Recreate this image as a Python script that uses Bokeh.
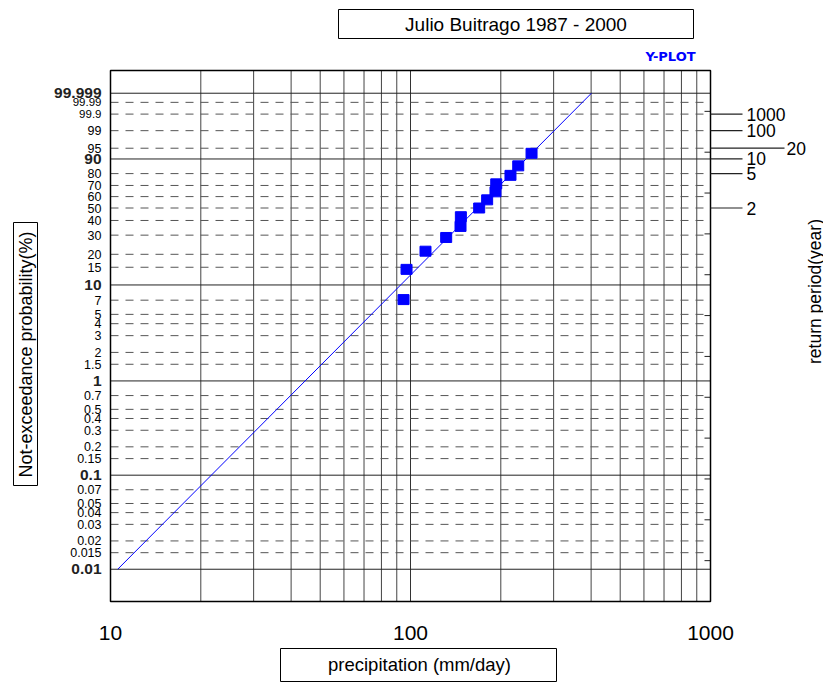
import math
from bokeh.plotting import figure
from bokeh.models import Range1d
from bokeh.core.properties import value
from bokeh.embed import file_html
from bokeh.resources import INLINE

# ---------------- data ----------------
title_text = "Julio Buitrago 1987 - 2000"
brand_text = "Y-PLOT"
x_label = "precipitation (mm/day)"
y_label = "Not-exceedance probability(%)"
y2_label = "return period(year)"

# observed annual maxima (mm/day), sorted, with plotting probabilities (%)
precip = [94.8, 97.0, 112.2, 131.5, 146.8, 147.2, 169.4, 180.1, 192.0, 193.1, 215.4, 228.6, 253.2]
prob = [7.1, 14.3, 21.4, 28.6, 35.7, 42.9, 50.0, 57.1, 64.3, 71.4, 78.6, 85.7, 92.9]

# fitted distribution line (end points on the paper)
fit_prob = [0.01, 99.999]
fit_precip = [10.57, 401.0]

# probability paper ticks (%)
prob_major = [0.01, 0.1, 1, 10, 90, 99.999]
prob_major_lbl = ["0.01", "0.1", "1", "10", "90", "99.999"]
prob_minor = [0.015, 0.02, 0.03, 0.04, 0.05, 0.07, 0.15, 0.2, 0.3, 0.4, 0.5, 0.7,
              1.5, 2, 3, 4, 5, 7, 15, 20, 30, 40, 50, 60, 70, 80, 95, 99]
prob_minor_lbl = ["0.015", "0.02", "0.03", "0.04", "0.05", "0.07", "0.15", "0.2", "0.3",
                  "0.4", "0.5", "0.7", "1.5", "2", "3", "4", "5", "7", "15", "20", "30",
                  "40", "50", "60", "70", "80", "95", "99"]
prob_small = [99.9, 99.99]
prob_small_lbl = ["99.9", "99.99"]

x_major = [10, 100, 1000]
x_major_lbl = ["10", "100", "1000"]
x_minor = [20, 30, 40, 50, 60, 70, 80, 90, 200, 300, 400, 500, 600, 700, 800, 900]

return_periods = [2, 5, 10, 100, 1000]
return_lbl = ["2", "5", "10", "100", "1000"]
return_long = [20]
return_long_lbl = ["20"]

variate_ticks = [-9, -8, -7, -6, -5, -4, -3, -2, -1, 0, 1, 2]

# ---------------- paper geometry ----------------
FIG_W, FIG_H, MARGIN = 823, 682, 0
PL, PR, PT, PB = 110, 710, 70, 601          # plot frame on page (px)
X0, X1 = 10.0, 1000.0                       # precipitation range of paper
Y0, Y1 = -10.0, 3.0                         # reduced variate range of paper


def wv(p):
    """Weibull reduced variate of a non-exceedance probability in %."""
    return math.log(-math.log(1.0 - p / 100.0))


def tp(T):
    return 100.0 * (1.0 - 1.0 / T)


def xd(px):
    lo, hi = math.log10(X0), math.log10(X1)
    return 10 ** (lo + (px - PL) / (PR - PL) * (hi - lo))


def yd(py):
    return Y1 - (py - PT) / (PB - PT) * (Y1 - Y0)


p = figure(width=FIG_W, height=FIG_H, x_axis_type="log",
           x_range=Range1d(xd(MARGIN), xd(MARGIN + FIG_W)),
           y_range=Range1d(yd(MARGIN + FIG_H), yd(MARGIN)),
           x_axis_location=None, y_axis_location=None,
           toolbar_location=None, output_backend="svg", min_border=0)
p.outline_line_color = None
p.grid.visible = False
p.background_fill_color = "white"
p.border_fill_color = "white"

FONT = value("Liberation Sans")

# vertical grid
p.segment(x0=x_minor, y0=[Y0] * len(x_minor), x1=x_minor, y1=[Y1] * len(x_minor),
          line_color="#444444", line_width=1)
p.segment(x0=[x_major[1]], y0=[Y0], x1=[x_major[1]], y1=[Y1], line_color="#333333", line_width=1)

# horizontal dashed grid
dash_p = prob_minor + prob_small
dy = [wv(v) for v in dash_p]
p.segment(x0=[X0] * len(dy), y0=dy, x1=[X1] * len(dy), y1=dy,
          line_color="#555555", line_width=1, line_dash="8 7")
# horizontal solid major lines
my = [wv(v) for v in prob_major]
p.segment(x0=[X0] * len(my), y0=my, x1=[X1] * len(my), y1=my,
          line_color="#222222", line_width=1)

# small ticks of the reduced variate on the right edge
p.segment(x0=[xd(PR - 6)] * len(variate_ticks), y0=variate_ticks,
          x1=[X1] * len(variate_ticks), y1=variate_ticks, line_color="#222222", line_width=1)

# frame
p.quad(left=[X0], right=[X1], bottom=[Y0], top=[Y1], fill_color=None,
       line_color="black", line_width=1.5)

# fitted line
p.line(x=fit_precip, y=[wv(v) for v in fit_prob], line_color="#0000FF", line_width=1)

# data points
p.rect(x=precip, y=[wv(v) for v in prob], width=11, height=10,
       width_units="screen", height_units="screen",
       fill_color="#0000FF", line_color="#0000FF")

# left tick labels
lx = xd(101)
p.text(x=[lx] * len(prob_major), y=my, text=prob_major_lbl, text_font=FONT,
       text_font_size="15.5px", text_font_style="bold", text_align="right",
       text_baseline="middle", text_color="#222222")
p.text(x=[lx] * len(prob_minor), y=[wv(v) for v in prob_minor], text=prob_minor_lbl,
       text_font=FONT, text_font_size="12.5px", text_align="right", text_baseline="middle",
       text_color="black")
p.text(x=[lx] * len(prob_small), y=[wv(v) for v in prob_small], text=prob_small_lbl,
       text_font=FONT, text_font_size="11.5px", text_align="right", text_baseline="middle",
       text_color="black")

# bottom tick labels
p.text(x=x_major, y=[yd(632)] * len(x_major), text=x_major_lbl, text_font=FONT,
       text_font_size="21px", text_align="center", text_baseline="middle", text_color="black")

# return period ticks on the right
ry = [wv(tp(T)) for T in return_periods]
p.segment(x0=[X1] * len(ry), y0=ry, x1=[xd(742)] * len(ry), y1=ry, line_color="#222222",
          line_width=1.2)
p.text(x=[xd(746)] * len(ry), y=ry, text=return_lbl, text_font=FONT, text_font_size="17.5px",
       text_align="left", text_baseline="middle", text_color="black")
rly = [wv(tp(T)) for T in return_long]
p.segment(x0=[X1] * len(rly), y0=rly, x1=[xd(784)] * len(rly), y1=rly, line_color="#222222",
          line_width=1.2)
p.text(x=[xd(786)] * len(rly), y=rly, text=return_long_lbl, text_font=FONT,
       text_font_size="17.5px", text_align="left", text_baseline="middle", text_color="black")

# title box
p.quad(left=[xd(338)], right=[xd(693)], top=[yd(9)], bottom=[yd(38)], fill_color="white",
       line_color="black", line_width=1)
p.text(x=[xd(515.5)], y=[yd(24)], text=[title_text], text_font=FONT, text_font_size="19px",
       text_align="center", text_baseline="middle", text_color="black")
p.text(x=[xd(670)], y=[yd(56)], text=[brand_text], text_font=value("DejaVu Sans"),
       text_font_size="13px", text_font_style="bold", text_align="center",
       text_baseline="middle", text_color="#0000FF")

# x label box
p.quad(left=[xd(280)], right=[xd(556)], top=[yd(648)], bottom=[yd(681)], fill_color="white",
       line_color="black", line_width=1)
p.text(x=[xd(419)], y=[yd(664)], text=[x_label], text_font=FONT, text_font_size="18.5px",
       text_align="center", text_baseline="middle", text_color="black")

# y label box
p.quad(left=[xd(13)], right=[xd(37)], top=[yd(222)], bottom=[yd(485)], fill_color="white",
       line_color="black", line_width=1)
p.text(x=[xd(25)], y=[yd(354)], text=[y_label], text_font=FONT, text_font_size="18px",
       angle=math.pi / 2, text_align="center", text_baseline="middle", text_color="black")

# right label
p.text(x=[xd(814)], y=[yd(291)], text=[y2_label], text_font=FONT, text_font_size="17.5px",
       angle=math.pi / 2, text_align="center", text_baseline="middle", text_color="black")

open("out.html", "w").write(file_html(p, INLINE))
